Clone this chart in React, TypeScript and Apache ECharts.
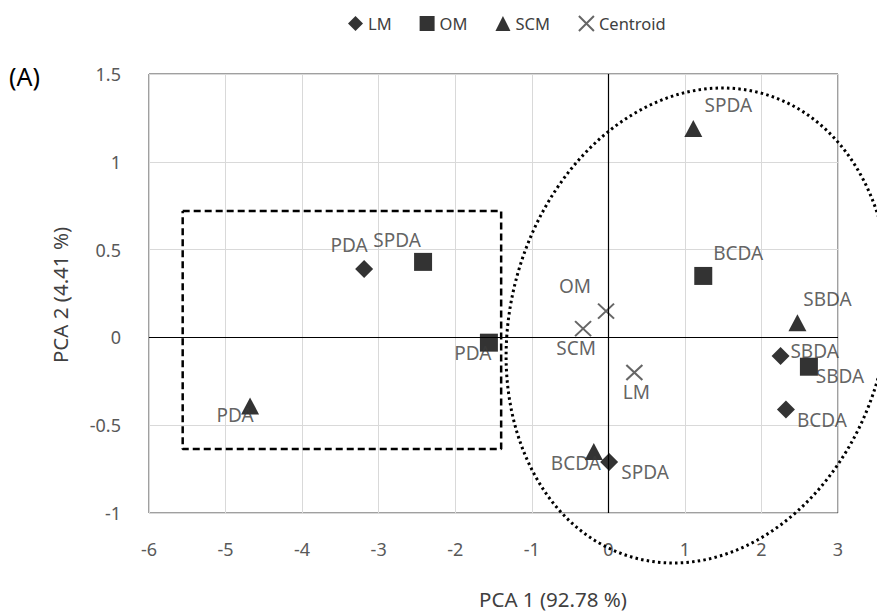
import React, { useEffect, useRef } from 'react';
import * as echarts from 'echarts';

// Axis ticks
const xTicks = [-6, -5, -4, -3, -2, -1, 0, 1, 2, 3];
const yTicks = [-1, -0.5, 0, 0.5, 1, 1.5];

// LM (diamond)
const lmNames = ['PDA', 'SBDA', 'BCDA', 'SPDA'];
const lmX = [-3.19, 2.25, 2.32, 0.01];
const lmY = [0.39, -0.106, -0.41, -0.71];

// OM (square)
const omNames = ['SPDA', 'PDA', 'BCDA', 'SBDA'];
const omX = [-2.42, -1.56, 1.24, 2.62];
const omY = [0.43, -0.03, 0.35, -0.167];

// SCM (triangle)
const scmNames = ['PDA', 'SPDA', 'SBDA', 'BCDA'];
const scmX = [-4.68, 1.11, 2.47, -0.19];
const scmY = [-0.39, 1.19, 0.083, -0.65];

// Centroid (x)
const cenNames = ['OM', 'SCM', 'LM'];
const cenX = [-0.03, -0.33, 0.34];
const cenY = [0.15, 0.05, -0.2];

// Dashed box bounds
const boxX = [-5.56, -1.4];
const boxY = [-0.636, 0.72];

// Label offsets (pixels, relative to marker centre)
const lmOffsets = [[-15, -24], [34, -5], [36, 11], [36, 10]];
const omOffsets = [[-26, -22], [-16, 10], [35, -23], [31, 9]];
const scmOffsets = [[-15, 9], [35, -23], [30, -24], [-18, 11]];
const cenOffsets = [[-31, -25], [-7, 19], [2, 19]];

const FONT = 'Noto Sans';

function pts(names: string[], xs: number[], ys: number[], offs: number[][]) {
  return names.map((n, i) => ({ name: n, value: [xs[i], ys[i]], label: { offset: offs[i] } }));
}

export default function App() {
  const ref = useRef<HTMLDivElement>(null);
  useEffect(() => {
    if (!ref.current) return;
    const chart = echarts.init(ref.current, null, { renderer: 'svg' });
    const labelBase = {
      show: true,
      position: 'inside',
      formatter: '{b}',
      color: '#3a3a3a',
      fontSize: 19,
      fontFamily: FONT,
      textBorderWidth: 0,
      textBorderColor: 'transparent',
    };
    const box = [
      [boxX[0], boxY[1]],
      [boxX[1], boxY[1]],
      [boxX[1], boxY[0]],
      [boxX[0], boxY[0]],
      [boxX[0], boxY[1]],
    ];
    chart.setOption({
      animation: false,
      textStyle: { fontFamily: FONT },
      grid: {
        left: 149,
        right: 39,
        top: 74,
        bottom: 99,
        show: true,
        borderColor: '#404040',
        borderWidth: 1,
        backgroundColor: 'transparent',
      },
      legend: {
        data: ['LM', 'OM', 'SCM', 'Centroid'],
        left: 343,
        top: 10,
        itemWidth: 15,
        itemHeight: 15,
        itemGap: 28,
        textStyle: { color: '#404040', fontSize: 16.5, fontFamily: FONT },
      },
      xAxis: {
        type: 'value',
        min: xTicks[0],
        max: xTicks[xTicks.length - 1],
        interval: 1,
        axisLine: { show: false },
        axisTick: { show: false },
        axisLabel: { color: '#595959', fontSize: 18, margin: 27, fontFamily: FONT },
        splitLine: { show: true, lineStyle: { color: '#d9d9d9', width: 1 } },
      },
      yAxis: {
        type: 'value',
        min: yTicks[0],
        max: yTicks[yTicks.length - 1],
        interval: 0.5,
        axisLine: { show: false },
        axisTick: { show: false },
        axisLabel: { color: '#595959', fontSize: 18, margin: 28, fontFamily: FONT },
        splitLine: { show: true, lineStyle: { color: '#d9d9d9', width: 1 } },
      },
      graphic: [
        {
          type: 'text',
          left: 9,
          top: 63,
          style: { text: '(A)', fontSize: 25, fill: '#000', fontFamily: FONT },
        },
        {
          type: 'text',
          x: 553,
          y: 599,
          style: {
            text: 'PCA 1 (92.78 %)',
            fontSize: 20.5,
            fill: '#404040',
            fontFamily: FONT,
            align: 'center',
            verticalAlign: 'middle',
          },
        },
        {
          type: 'text',
          x: 60,
          y: 295,
          rotation: Math.PI / 2,
          style: {
            text: 'PCA 2 (4.41 %)',
            fontSize: 20.5,
            fill: '#404040',
            fontFamily: FONT,
            align: 'center',
            verticalAlign: 'middle',
          },
        },
        {
          type: 'ellipse',
          x: 698,
          y: 325.5,
          rotation: -0.269,
          shape: { cx: 0, cy: 0, rx: 187.6, ry: 240.8 },
          style: { fill: 'none', stroke: '#000', lineWidth: 3, lineDash: [2.5, 3.2] },
          z: 10,
        },
      ],
      series: [
        {
          name: 'box',
          type: 'line',
          data: box,
          symbol: 'none',
          lineStyle: { color: '#000', width: 2.5, type: [7, 4] },
          z: 1,
          silent: true,
          markLine: {
            silent: true,
            symbol: ['none', 'none'],
            label: { show: false },
            lineStyle: { color: '#000', type: 'solid', width: 1.2 },
            data: [{ xAxis: 0 }, { yAxis: 0 }],
          },
        },
        {
          name: 'LM',
          type: 'scatter',
          symbol: 'diamond',
          symbolSize: 18,
          itemStyle: { color: '#000' },
          label: labelBase,
          data: pts(lmNames, lmX, lmY, lmOffsets),
          z: 3,
        },
        {
          name: 'OM',
          type: 'scatter',
          symbol: 'rect',
          symbolSize: 18,
          itemStyle: { color: '#000' },
          label: labelBase,
          data: pts(omNames, omX, omY, omOffsets),
          z: 3,
        },
        {
          name: 'SCM',
          type: 'scatter',
          symbol: 'triangle',
          symbolSize: [18, 17],
          itemStyle: { color: '#000' },
          label: labelBase,
          data: pts(scmNames, scmX, scmY, scmOffsets),
          z: 3,
        },
        {
          name: 'Centroid',
          type: 'scatter',
          symbol: 'path://M0,0L10,10M10,0L0,10',
          symbolSize: [16, 15],
          itemStyle: { color: 'transparent', borderColor: '#404040', borderWidth: 2 },
          label: labelBase,
          data: pts(cenNames, cenX, cenY, cenOffsets),
          z: 3,
        },
      ],
    });
    return () => chart.dispose();
  }, []);
  return (
    <div
      ref={ref}
      style={{ position: 'fixed', left: 0, top: 0, width: 877, height: 612, background: '#fff' }}
    />
  );
}
